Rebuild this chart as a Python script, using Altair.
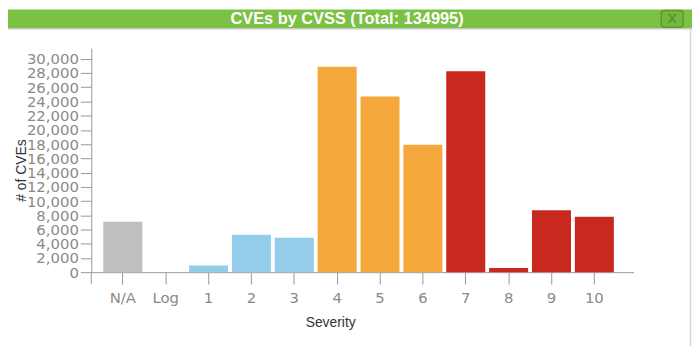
import altair as alt
import pandas as pd

# ---- data ----
categories = ["N/A", "Log", "1", "2", "3", "4", "5", "6", "7", "8", "9", "10"]
counts = [7100, 0, 950, 5250, 4850, 28900, 24700, 17900, 28250, 600, 8700, 7795]
groups = ["none", "none", "low", "low", "low", "medium", "medium", "medium",
          "high", "high", "high", "high"]
group_names = ["none", "low", "medium", "high"]
group_colors = ["#bfbfbf", "#94cde9", "#f4a83b", "#c8281e"]
y_ticks = list(range(0, 30001, 2000))
title_text = "CVEs by CVSS (Total: 134995)"

df = pd.DataFrame({"Severity": categories, "count": counts, "group": groups})
one = pd.DataFrame({"k": [0]})

W, H = 547, 226
PAD_L, PAD_T, PAD_R, PAD_B = 84, 39, 59, 75

bars = alt.Chart(df).mark_bar().encode(
    x=alt.X(
        "Severity:N",
        sort=categories,
        scale=alt.Scale(paddingInner=0.09, paddingOuter=0.37, align=0.38, round=False),
        axis=alt.Axis(
            title="Severity",
            labelAngle=0,
            tickSize=12,
            labelPadding=7,
            titleX=241,
            titleY=51,
            titleBaseline="middle",
            titleAlign="center",
        ),
    ),
    y=alt.Y(
        "count:Q",
        scale=alt.Scale(domain=[0, 31500], nice=False),
        axis=alt.Axis(
            title="# of CVEs",
            values=y_ticks,
            format=",d",
            tickSize=11,
            labelPadding=2,
            labelOverlap=False,
            grid=False,
            titleX=-70,
            titleY=123,
            titleAngle=270,
            titleAlign="center",
            titleBaseline="middle",
        ),
    ),
    color=alt.Color(
        "group:N",
        scale=alt.Scale(domain=group_names, range=group_colors),
        legend=None,
    ),
)

# extension of the y-axis line below the x axis
ytail = alt.Chart(one).mark_rule(color="#999999", strokeWidth=1).encode(
    x=alt.value(0), y=alt.value(H), y2=alt.value(H + 12)
)

# window title bar
bar_bg = alt.Chart(one).mark_rect(color="#7bc144").encode(
    x=alt.value(-PAD_L), x2=alt.value(W + PAD_R), y=alt.value(-PAD_T), y2=alt.value(-20)
)
bar_line = alt.Chart(one).mark_rule(color="#c8c8c8", strokeWidth=1.5).encode(
    x=alt.value(-PAD_L), x2=alt.value(W + PAD_R), y=alt.value(-19.5)
)
right_border = alt.Chart(one).mark_rule(color="#d8d8d8", strokeWidth=1.5).encode(
    x=alt.value(604.5), y=alt.value(-20), y2=alt.value(H + PAD_B)
)
title = alt.Chart(one).mark_text(
    text=title_text, color="white", font="Liberation Sans", fontWeight="bold",
    fontSize=16.5, align="center", baseline="middle"
).encode(x=alt.value(258), y=alt.value(-29))
close_box = alt.Chart(one).mark_rect(
    fill="#74b83f", stroke="#5d9734", strokeWidth=1.5, cornerRadius=3
).encode(x=alt.value(575), x2=alt.value(597), y=alt.value(-38), y2=alt.value(-21))
close_x = alt.Chart(one).mark_text(
    text="X", color="#5d9734", font="DejaVu Sans", fontWeight="bold",
    fontSize=13, align="center", baseline="middle"
).encode(x=alt.value(586), y=alt.value(-29))

chart = alt.layer(
    bars, ytail, bar_bg, bar_line, right_border, title, close_box, close_x
).properties(
    width=W,
    height=H,
    padding={"left": PAD_L, "top": PAD_T, "right": PAD_R, "bottom": PAD_B},
    autosize=alt.AutoSizeParams(type="none"),
    background="white",
).configure_view(
    stroke="transparent"
).configure_axis(
    domainColor="#999999",
    tickColor="#999999",
    labelColor="#8a8a8a",
    labelFont="DejaVu Sans",
    labelFontSize=15,
    titleFont="Liberation Sans",
    titleFontSize=14,
    titleFontWeight="normal",
    titleColor="#333333",
)

chart.save("out.html", embed_options={"renderer": "svg", "actions": False})
